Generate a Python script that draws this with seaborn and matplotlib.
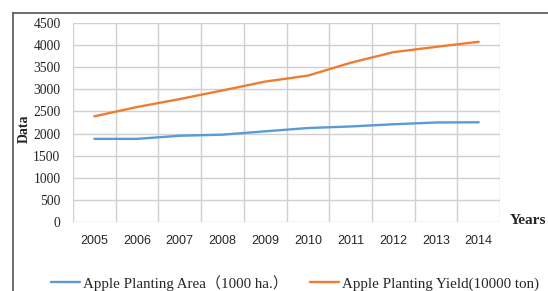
import matplotlib
matplotlib.use("Agg")
import matplotlib.pyplot as plt
from matplotlib.lines import Line2D
import numpy as np
import pandas as pd
import seaborn as sns

years = ["2005", "2006", "2007", "2008", "2009", "2010", "2011", "2012", "2013", "2014"]
area = [1880, 1880, 1950, 1975, 2050, 2125, 2160, 2210, 2250, 2255]
yield_ = [2390, 2600, 2780, 2975, 3175, 3310, 3600, 3840, 3960, 4075]
series_names = ["Apple Planting Area（1000 ha.）", "Apple Planting Yield(10000 ton)"]
colors = ["#5b9bd5", "#ed7d31"]

df = pd.DataFrame({
    "Year": years * 2,
    "Value": area + yield_,
    "Series": [series_names[0]] * len(years) + [series_names[1]] * len(years),
})

sns.set_style("white")
serif = ["Liberation Serif", "Noto Sans CJK SC"]

fig = plt.figure(figsize=(5.48, 2.91), dpi=100)
ax = fig.add_axes([73 / 548, 1 - 222 / 291, 427 / 548, 199 / 291])

sns.lineplot(data=df, x="Year", y="Value", hue="Series", palette=colors,
             linewidth=1.7, ax=ax, legend=True)

ax.set_xlim(-0.5, len(years) - 0.5)
ax.set_ylim(0, 4500)
ax.set_yticks(np.arange(0, 4501, 500))
ax.set_xticks(np.arange(len(years)))
ax.set_xticklabels(years, family="Liberation Sans", fontsize=9)
ax.set_xticks(np.arange(-0.5, len(years)), minor=True)
ax.grid(axis="x", which="minor", color="#d0d0d0", linewidth=1)
ax.grid(axis="y", which="major", color="#d0d0d0", linewidth=1)
ax.grid(axis="x", which="major", visible=False)
for lbl in ax.get_yticklabels():
    lbl.set_family("Liberation Serif")
    lbl.set_fontsize(9.8)
ax.tick_params(length=0, pad=9)
ax.tick_params(axis="x", pad=9)
for s in ax.spines.values():
    s.set_visible(False)
ax.set_axisbelow(True)

ax.set_xlabel("")
ax.set_ylabel("Data", family="Liberation Serif", fontweight="bold", fontsize=10)
ax.yaxis.set_label_coords(-0.1, 0.47)
fig.text(510 / 548, 1 - 221 / 291, "Years", family="Liberation Serif",
         fontweight="bold", fontsize=11, va="center", ha="left")

leg = ax.legend(loc="center", bbox_to_anchor=(0.52, -0.305), ncol=2,
                frameon=False, prop={"family": serif, "size": 10.8},
                handlelength=1.9, handletextpad=0.2, columnspacing=1.5,
                borderaxespad=0, borderpad=0)

# outer frame lines (left and top)
fig.add_artist(Line2D([13 / 548, 13 / 548], [0, 1 - 13 / 291], color="#555555", linewidth=1.2))
fig.add_artist(Line2D([13 / 548, 1], [1 - 13 / 291, 1 - 13 / 291], color="#555555", linewidth=1.2))

fig.savefig("out.png", dpi=100)
